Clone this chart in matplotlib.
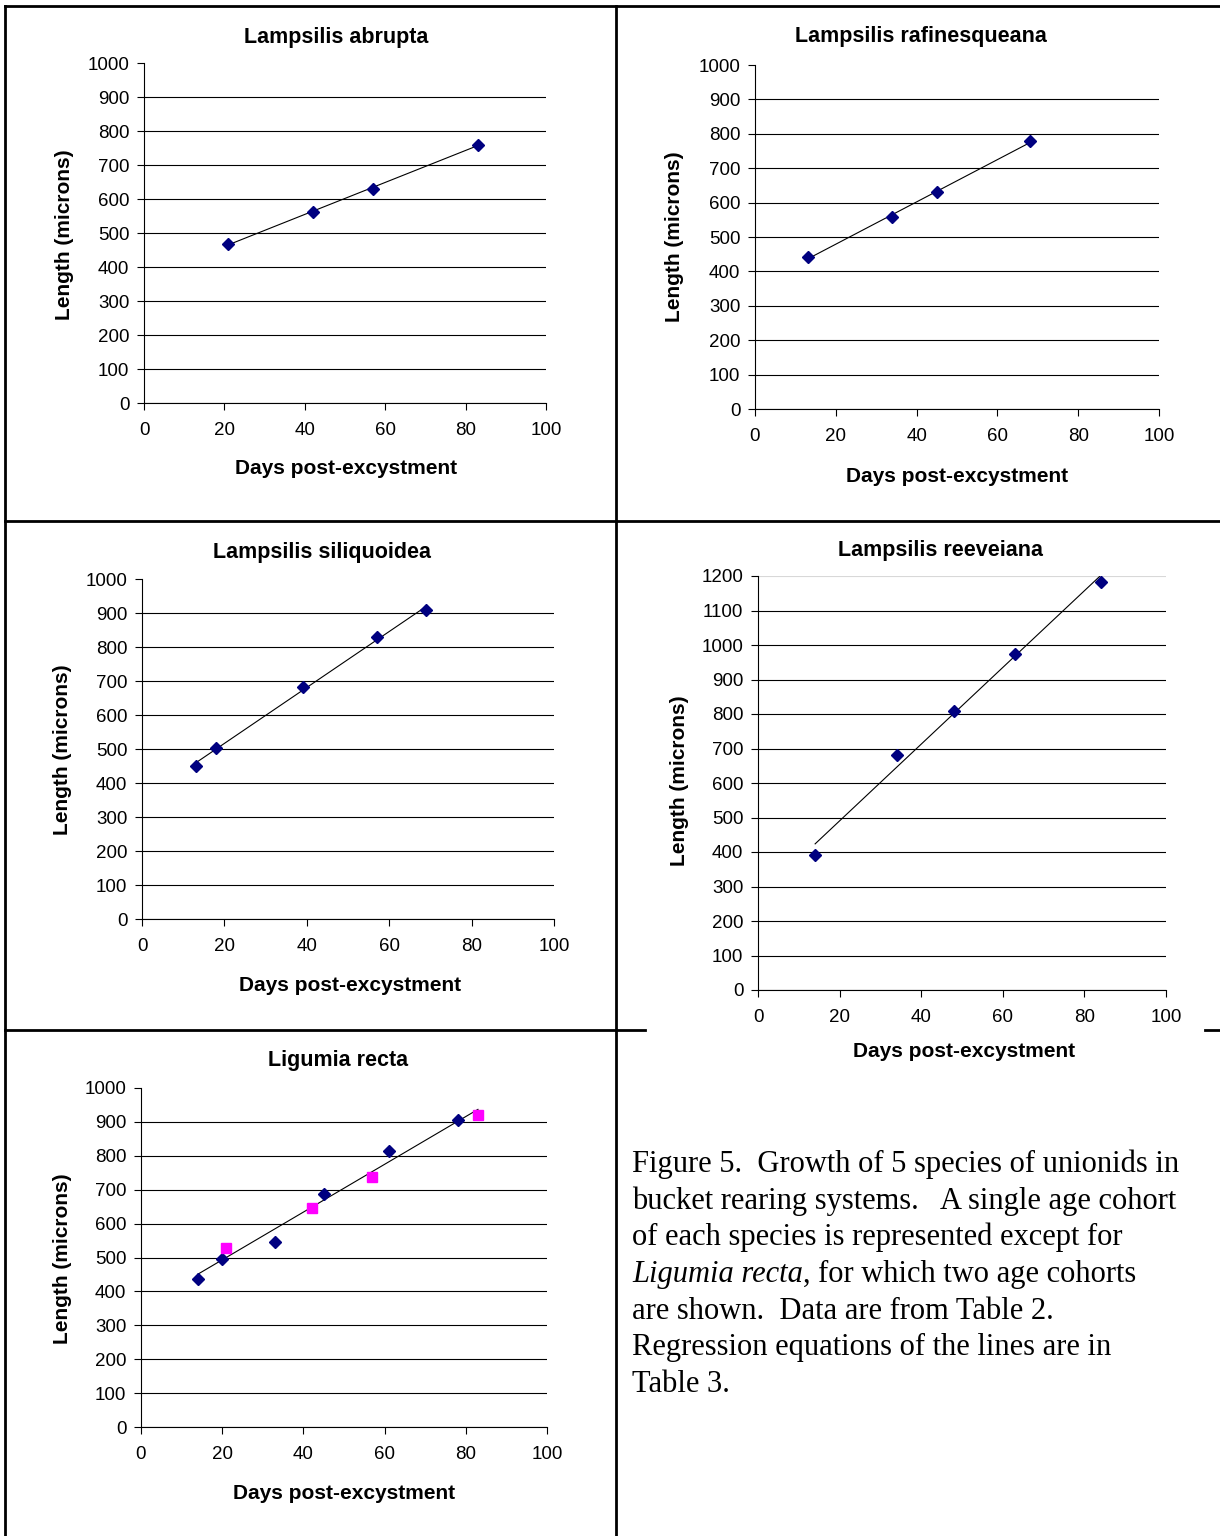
import numpy as np
import matplotlib
matplotlib.use("Agg")
import matplotlib.pyplot as plt
from matplotlib.lines import Line2D

# ---------------- data ----------------
abrupta_days = [21, 42, 57, 83]
abrupta_len = [468, 563, 630, 760]

rafin_days = [13, 34, 45, 68]
rafin_len = [441, 559, 630, 778]

siliq_days = [13, 18, 39, 57, 69]
siliq_len = [450, 502, 683, 828, 909]

reev_days = [14, 34, 48, 63, 84]
reev_len = [392, 682, 810, 973, 1184]

lig_a_days = [14, 20, 33, 45, 61, 78]
lig_a_len = [438, 495, 546, 686, 815, 907]
lig_b_days = [21, 42, 57, 83]
lig_b_len = [529, 647, 736, 921]

titles = ["Lampsilis abrupta", "Lampsilis rafinesqueana", "Lampsilis siliquoidea",
          "Lampsilis reeveiana", "Ligumia recta"]
x_ticks = [0, 20, 40, 60, 80, 100]
y_ticks_1000 = [0, 100, 200, 300, 400, 500, 600, 700, 800, 900, 1000]
y_ticks_1200 = [0, 100, 200, 300, 400, 500, 600, 700, 800, 900, 1000, 1100, 1200]

x_label = "Days post-excystment"
y_label = "Length (microns)"

caption_lines = [
    "Figure 5.  Growth of 5 species of unionids in",
    "bucket rearing systems.   A single age cohort",
    "of each species is represented except for",
    None,  # italic line handled separately
    "are shown.  Data are from Table 2.",
    "Regression equations of the lines are in",
    "Table 3.",
]
caption_italic = "Ligumia recta"
caption_line4_rest = ", for which two age cohorts"

# ---------------- layout ----------------
W, H = 1220, 1536
DPI = 100
plt.rcParams['font.family'] = ['Liberation Sans', 'DejaVu Sans']

fig = plt.figure(figsize=(W / DPI, H / DPI), dpi=DPI)
fig.patch.set_facecolor('white')

def fx(x):
    return x / W

def fy(y):
    return 1 - y / H

NAVY = '#000080'
PINK = '#FF00FF'

panels = [
    dict(rect=(144, 546, 63, 403), title=(336, 43), xl=(346, 474), yl=(65, 235),
         yt=y_ticks_1000, series=[(abrupta_days, abrupta_len, 'D', NAVY)]),
    dict(rect=(755, 1159, 65, 409), title=(921, 42), xl=(957, 482), yl=(675, 237),
         yt=y_ticks_1000, series=[(rafin_days, rafin_len, 'D', NAVY)]),
    dict(rect=(142, 554, 579, 919), title=(322, 558), xl=(350, 991), yl=(63, 750),
         yt=y_ticks_1000, series=[(siliq_days, siliq_len, 'D', NAVY)]),
    dict(rect=(758, 1166, 576, 990), title=(940, 556), xl=(964, 1057), yl=(680, 781),
         yt=y_ticks_1200, series=[(reev_days, reev_len, 'D', NAVY)]),
    dict(rect=(141, 547, 1088, 1427), title=(338, 1066), xl=(344, 1499), yl=(63, 1259),
         yt=y_ticks_1000, series=[(lig_a_days, lig_a_len, 'D', NAVY),
                                  (lig_b_days, lig_b_len, 's', PINK)]),
]

for p, title in zip(panels, titles):
    l, r, t, b = p['rect']
    ax = fig.add_axes([fx(l), fy(b), (r - l) / W, (b - t) / H])
    yt = p['yt']
    ax.set_xlim(0, 100)
    ax.set_ylim(yt[0], yt[-1])
    ax.set_xticks(x_ticks)
    ax.set_yticks(yt)
    ax.tick_params(axis='both', direction='out', length=5, width=0.8, colors='black',
                   labelsize=13.5)
    ax.tick_params(axis='x', pad=8.5)
    ax.tick_params(axis='y', pad=5.5)
    for s in ('top', 'right'):
        ax.spines[s].set_visible(False)
    for s in ('left', 'bottom'):
        ax.spines[s].set_color('black')
        ax.spines[s].set_linewidth(0.8)
    ax.yaxis.grid(True, color='black', linewidth=0.8)
    ax.set_axisbelow(True)
    gl = ax.get_ygridlines()
    if yt[-1] == 1200:
        gl[-1].set_color('#d8d8d8')
    else:
        gl[-1].set_visible(False)

    # regression line over all points of the panel
    all_x = np.concatenate([np.asarray(s[0], float) for s in p['series']])
    all_y = np.concatenate([np.asarray(s[1], float) for s in p['series']])
    coef = np.polyfit(all_x, all_y, 1)
    xs = np.array([all_x.min(), all_x.max()])
    ax.plot(xs, np.polyval(coef, xs), color='black', linewidth=0.8, zorder=3)

    for xd, yd, mk, col in p['series']:
        ms = 6.0 if mk == 'D' else 6.5
        ax.plot(xd, yd, linestyle='none', marker=mk, markersize=ms, color=col,
                markeredgecolor=col, zorder=4, clip_on=False)

    tx, ty = p['title']
    fig.text(fx(tx), fy(ty), title, ha='center', va='baseline', fontsize=15.5,
             fontweight='bold')
    xx, xy = p['xl']
    fig.text(fx(xx), fy(xy), x_label, ha='center', va='baseline', fontsize=15,
             fontweight='bold')
    yx, yy = p['yl']
    fig.text(fx(yx), fy(yy), y_label, ha='center', va='center', rotation=90,
             fontsize=15, fontweight='bold')

# ---------------- table borders ----------------
def seg(x0, y0, x1, y1):
    fig.add_artist(Line2D([fx(x0), fx(x1)], [fy(y0), fy(y1)], color='black',
                          linewidth=2.0, transform=fig.transFigure))

seg(5, 6, 1220, 6)        # top
seg(5, 6, 5, 1536)        # left
seg(616, 6, 616, 1536)    # middle vertical
seg(5, 521, 1220, 521)    # first row divider
seg(5, 1030, 645, 1030)   # second row divider (left part)
seg(1205, 1030, 1220, 1030)

# ---------------- caption ----------------
cap_x = 632
cap_base = 1172
cap_step = 36.7
cap_size = 22
serif = ['Liberation Serif', 'DejaVu Serif']
renderer = fig.canvas.get_renderer()
for i, line in enumerate(caption_lines):
    yb = cap_base + i * cap_step
    if line is not None:
        fig.text(fx(cap_x), fy(yb), line, ha='left', va='baseline', fontsize=cap_size,
                 family=serif)
    else:
        t_it = fig.text(fx(cap_x), fy(yb), caption_italic, ha='left', va='baseline',
                        fontsize=cap_size, family=serif, style='italic')
        bb = t_it.get_window_extent(renderer=renderer)
        fig.text(bb.x1 / W, fy(yb), caption_line4_rest, ha='left', va='baseline',
                 fontsize=cap_size, family=serif)

fig.savefig('out.png', dpi=DPI, facecolor='white')
